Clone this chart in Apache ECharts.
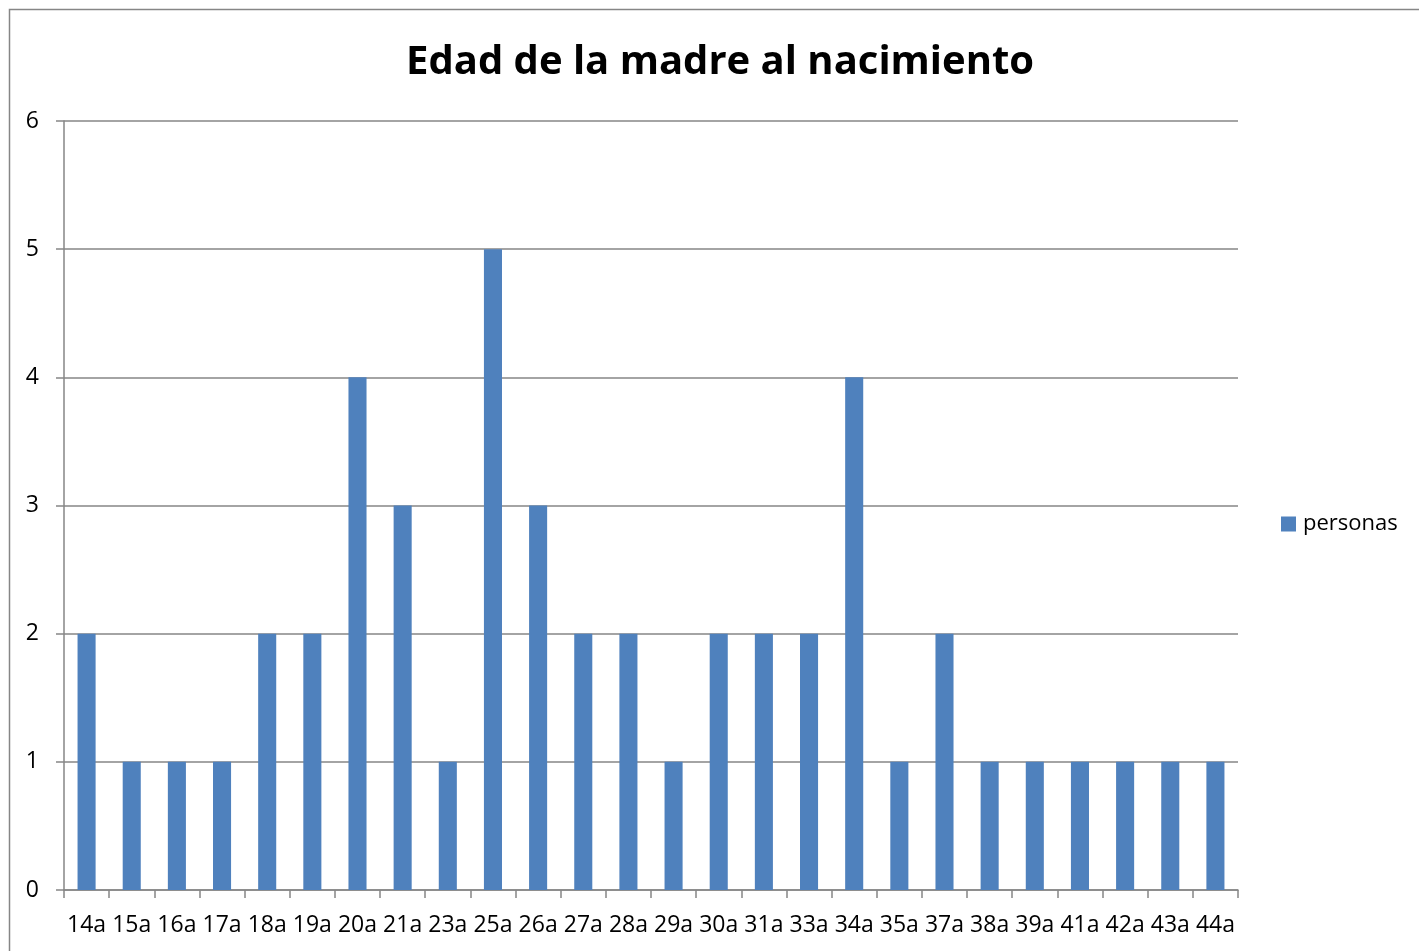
<!DOCTYPE html>
<html>
<head>
<meta charset="utf-8">
<style>
    html, body { margin: 0; padding: 0; background: #fff; }
    #chart { width: 1419px; height: 951px; }
</style>
</head>
<body>
<div id="chart"></div>
<script src="https://cdn.jsdelivr.net/npm/echarts@6/dist/echarts.min.js"></script>
<script>
    // categorias (edad) y valores
    var edades = ['14a', '15a', '16a', '17a', '18a', '19a', '20a', '21a', '23a', '25a', '26a', '27a', '28a',
        '29a', '30a', '31a', '33a', '34a', '35a', '37a', '38a', '39a', '41a', '42a', '43a', '44a'];
    var personas = [2, 1, 1, 1, 2, 2, 4, 3, 1, 5, 3, 2, 2, 1, 2, 2, 2, 4, 1, 2, 1, 1, 1, 1, 1, 1];
    var serieNombre = 'personas';
    var titulo = 'Edad de la madre al nacimiento';

    var barColor = '#4F81BD';
    var gridColor = '#868686';
    var fuente = '"Open Sans", "Liberation Sans", sans-serif';

    var mychart = echarts.init(document.getElementById('chart'));
    var option = {
        backgroundColor: '#fff',
        animation: false,
        textStyle: {fontFamily: fuente},
        //borde del grafico
        graphic: [{
            type: 'rect',
            shape: {x: 9.5, y: 9.5, width: 1500, height: 1000},
            style: {fill: 'none', stroke: gridColor, lineWidth: 1.5},
            silent: true
        }],
        title: {
            text: titulo,
            left: 401,
            top: 38,
            textStyle: {fontSize: 40, fontWeight: 'bold', color: '#000', fontFamily: fuente}
        },
        legend: {
            data: [serieNombre],
            left: 1281,
            top: 513,
            padding: 0,
            itemWidth: 15,
            itemHeight: 15,
            icon: 'rect',
            textStyle: {fontSize: 22, color: '#000', padding: [0, 0, 0, 2]}
        },
        grid: {
            left: 64,
            right: 181,
            top: 121,
            bottom: 61,
            containLabel: false
        },
        xAxis: {
            type: 'category',
            data: edades,
            boundaryGap: true,
            axisLine: {lineStyle: {color: gridColor, width: 1.5}},
            axisTick: {show: true, length: 8, inside: false, alignWithLabel: false, lineStyle: {color: gridColor, width: 1.5}},
            axisLabel: {interval: 0, fontSize: 23, color: '#000', margin: 24}
        },
        yAxis: {
            type: 'value',
            min: 0,
            max: 6,
            interval: 1,
            axisLine: {show: true, lineStyle: {color: gridColor, width: 1.5}},
            axisTick: {show: true, length: 8, lineStyle: {color: gridColor, width: 1.5}},
            splitLine: {show: true, lineStyle: {color: gridColor, width: 1.5}},
            axisLabel: {fontSize: 23, color: '#000', margin: 25}
        },
        series: [{
            name: serieNombre,
            type: 'bar',
            data: personas,
            barWidth: '40%',
            itemStyle: {color: barColor}
        }]
    };
    mychart.setOption(option);
</script>
</body>
</html>
